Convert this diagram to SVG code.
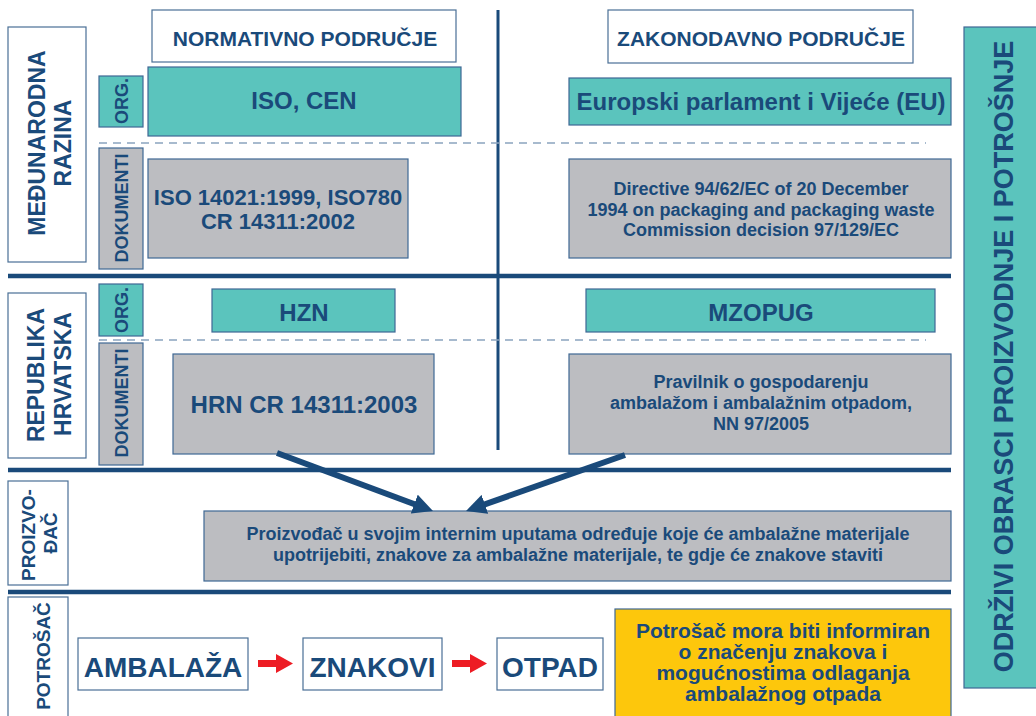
<svg xmlns="http://www.w3.org/2000/svg" width="1036" height="716" viewBox="0 0 1036 716">
<style>
text{font-family:"Liberation Sans",Arial,sans-serif;font-weight:bold;fill:#1a4a7a;text-anchor:middle}
.w{fill:#ffffff;stroke:#4a6f96;stroke-width:1.2}
.t{fill:#5bc4bd;stroke:#3f6894;stroke-width:1.2}
.g{fill:#bcbdc1;stroke:#3f6894;stroke-width:1.2}
.y{fill:#fdc70c;stroke:#3f6894;stroke-width:1.2}
.thick{stroke:#1a4a7a;stroke-width:4.5;fill:none}
.dash{stroke:#8aa4be;stroke-width:1.5;stroke-dasharray:8 6;fill:none}
.conn{stroke:#1a4a7a;stroke-width:6;fill:none;marker-end:url(#ah)}
.red{fill:#ed1c24}
</style>
<defs>
<marker id="ah" markerUnits="userSpaceOnUse" viewBox="0 0 20 20" refX="9" refY="10" markerWidth="20" markerHeight="20" orient="auto">
<path d="M0,0 L20,10 L0,20 z" fill="#1a4a7a"/>
</marker>
</defs>

<g id="frame-lines">
<line class="thick" x1="8" y1="276" x2="951" y2="276"/>
<line class="thick" x1="8" y1="470" x2="951" y2="470"/>
<line class="thick" x1="8" y1="592" x2="951" y2="592"/>
<line x1="498" y1="10" x2="498" y2="450" stroke="#1a4a7a" stroke-width="3"/>
<line class="dash" x1="99" y1="143" x2="926" y2="143"/>
<line class="dash" x1="99" y1="340" x2="926" y2="340"/>
</g>

<g id="hdr-normativno">
<rect class="w" x="152" y="10" width="304" height="52"/>
<text x="305" y="46" font-size="21">NORMATIVNO PODRUČJE</text>
</g>
<g id="hdr-zakonodavno">
<rect class="w" x="608" y="10" width="305" height="53"/>
<text x="761" y="46" font-size="21">ZAKONODAVNO PODRUČJE</text>
</g>

<g id="lbl-medunarodna">
<rect class="w" x="8" y="27" width="78" height="235"/>
<text transform="translate(45,143) rotate(-90)" font-size="23">MEĐUNARODNA</text>
<text transform="translate(71,143) rotate(-90)" font-size="23">RAZINA</text>
</g>
<g id="lbl-org1">
<rect class="t" x="99" y="76" width="44" height="51"/>
<text transform="translate(128,101) rotate(-90)" font-size="18">ORG.</text>
</g>
<g id="lbl-dok1">
<rect class="g" x="99" y="148" width="44" height="121"/>
<text transform="translate(128,208) rotate(-90)" font-size="18">DOKUMENTI</text>
</g>

<g id="iso-cen">
<rect class="t" x="148" y="67" width="313" height="69"/>
<text x="304" y="109" font-size="24">ISO, CEN</text>
</g>
<g id="eu">
<rect class="t" x="569" y="78" width="382" height="47"/>
<text x="761" y="110" font-size="24">Europski parlament i Vijeće (EU)</text>
</g>
<g id="iso-docs">
<rect class="g" x="148" y="159" width="260" height="99"/>
<text x="278" y="205" font-size="22">ISO 14021:1999, ISO780</text>
<text x="278" y="229" font-size="22">CR 14311:2002</text>
</g>
<g id="directive">
<rect class="g" x="569" y="159" width="382" height="99"/>
<text x="761" y="195" font-size="18">Directive 94/62/EC of 20 December</text>
<text x="761" y="215.5" font-size="18">1994 on packaging and packaging waste</text>
<text x="761" y="236" font-size="18">Commission decision 97/129/EC</text>
</g>

<g id="lbl-republika">
<rect class="w" x="8" y="293" width="78" height="165"/>
<text transform="translate(44,375) rotate(-90)" font-size="23">REPUBLIKA</text>
<text transform="translate(71,374) rotate(-90)" font-size="23">HRVATSKA</text>
</g>
<g id="lbl-org2">
<rect class="t" x="99" y="284" width="44" height="52"/>
<text transform="translate(128,310) rotate(-90)" font-size="18">ORG.</text>
</g>
<g id="lbl-dok2">
<rect class="g" x="99" y="343" width="44" height="122"/>
<text transform="translate(128,403) rotate(-90)" font-size="18">DOKUMENTI</text>
</g>

<g id="hzn">
<rect class="t" x="212" y="289" width="183" height="43"/>
<text x="304" y="321" font-size="24">HZN</text>
</g>
<g id="mzopug">
<rect class="t" x="586" y="289" width="349" height="43"/>
<text x="761" y="321" font-size="24">MZOPUG</text>
</g>
<g id="hrn">
<rect class="g" x="173" y="354" width="261" height="100"/>
<text x="304" y="413" font-size="24">HRN CR 14311:2003</text>
</g>
<g id="pravilnik">
<rect class="g" x="569" y="354" width="382" height="100"/>
<text x="761" y="388" font-size="18">Pravilnik o gospodarenju</text>
<text x="761" y="409" font-size="18">ambalažom i ambalažnim otpadom,</text>
<text x="761" y="430" font-size="18">NN 97/2005</text>
</g>

<g id="lbl-proizvodac">
<rect class="w" x="8" y="481" width="60" height="104"/>
<text transform="translate(35,535) rotate(-90)" font-size="19">PROIZVO-</text>
<text transform="translate(57,533) rotate(-90)" font-size="19">ĐAČ</text>
</g>
<g id="proizvodac">
<rect class="g" x="204" y="511" width="747" height="70"/>
<text x="578" y="540" font-size="18">Proizvođač u svojim internim uputama određuje koje će ambalažne materijale</text>
<text x="578" y="561" font-size="18">upotrijebiti, znakove za ambalažne materijale, te gdje će znakove staviti</text>
</g>

<g id="lbl-potrosac">
<rect class="w" x="8" y="597" width="60" height="125"/>
<text transform="translate(50,656) rotate(-90)" font-size="19">POTROŠAČ</text>
</g>
<g id="ambalaza">
<rect class="w" x="78" y="638" width="170" height="52"/>
<text x="163" y="677" font-size="28">AMBALAŽA</text>
</g>
<g id="znakovi">
<rect class="w" x="303" y="638" width="139" height="52"/>
<text x="372.5" y="677" font-size="28">ZNAKOVI</text>
</g>
<g id="otpad">
<rect class="w" x="497" y="638" width="106" height="52"/>
<text x="550" y="677" font-size="28">OTPAD</text>
</g>
<g id="potrosac-info">
<rect class="y" x="615" y="609" width="336" height="112"/>
<text x="783" y="638" font-size="21">Potrošač mora biti informiran</text>
<text x="783" y="659" font-size="21">o značenju znakova i</text>
<text x="783" y="680" font-size="21">mogućnostima odlaganja</text>
<text x="783" y="701" font-size="21">ambalažnog otpada</text>
</g>

<g id="odrzivi">
<rect class="t" x="964" y="27" width="80" height="661"/>
<text transform="translate(1013,356.5) rotate(-90)" font-size="27">ODRŽIVI OBRASCI PROIZVODNJE I POTROŠNJE</text>
</g>

<g id="connectors">
<line class="conn" x1="277" y1="453" x2="422.7" y2="507.2"/>
<line class="conn" x1="625" y1="455" x2="476.4" y2="507.3"/>
<polygon class="red" points="258,660 276,660 276,654 293,663.5 276,673 276,667 258,667"/>
<polygon class="red" points="452,660 470,660 470,654 487,663.5 470,673 470,667 452,667"/>
</g>
</svg>
